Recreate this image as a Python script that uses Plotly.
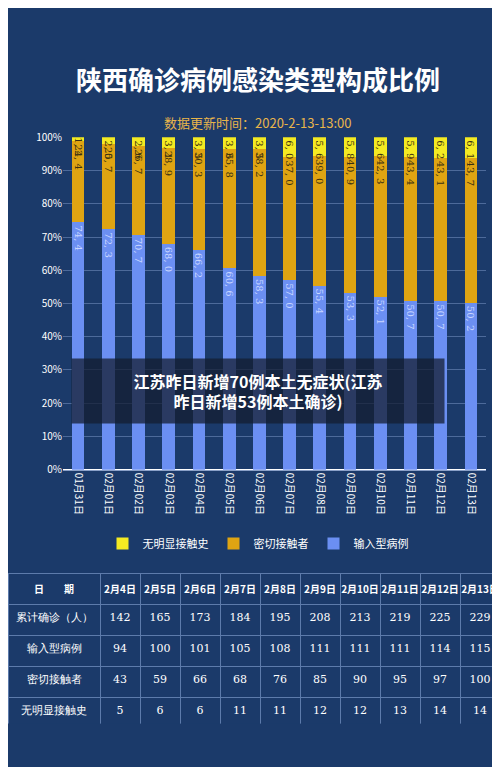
import plotly.graph_objects as go

dates = ["01月31日", "02月01日", "02月02日", "02月03日", "02月04日", "02月05日", "02月06日",
         "02月07日", "02月08日", "02月09日", "02月10日", "02月11日", "02月12日", "02月13日"]
imported_pct = [74.4, 72.3, 70.7, 68.0, 66.2, 60.6, 58.3, 57.0, 55.4, 53.3, 52.1, 50.7, 50.7, 50.2]
contact_pct = [24.4, 25.7, 26.7, 28.9, 30.3, 35.8, 38.2, 37.0, 39.0, 40.9, 42.3, 43.4, 43.1, 43.7]
unknown_pct = [1.2, 2.0, 2.6, 3.1, 3.5, 3.6, 3.5, 6.0, 5.6, 5.8, 5.6, 5.9, 6.2, 6.1]

table_dates = ["2月4日", "2月5日", "2月6日", "2月7日", "2月8日", "2月9日", "2月10日", "2月11日", "2月12日", "2月13日"]
row_names = ["累计确诊（人）", "输入型病例", "密切接触者", "无明显接触史"]
total_cases = [142, 165, 173, 184, 195, 208, 213, 219, 225, 229]
imported_cases = [94, 100, 101, 105, 108, 111, 111, 111, 114, 115]
contact_cases = [43, 59, 66, 68, 76, 85, 90, 95, 97, 100]
unknown_cases = [5, 6, 6, 11, 11, 12, 12, 13, 14, 14]

BG = "#1b3a6a"
fig = go.Figure()

for name, vals, color, tcolor in [
    ("输入型病例", imported_pct, "#6b8ff2", "#c9d6ff"),
    ("密切接触者", contact_pct, "#dfa412", "#3a3010"),
    ("无明显接触史", unknown_pct, "#f4ea22", "#3a3010"),
]:
    fig.add_trace(go.Bar(
        x=dates, y=vals, name=name, marker_color=color, marker_line_width=0,
        text=[f"{v:.1f}".replace(".", ", ") for v in vals],
        textposition="inside", insidetextanchor="end", textangle=90,
        constraintext="none",
        textfont=dict(color=tcolor, size=10, family="DejaVu Serif"),
        width=0.42,
    ))

# table columns, one list per column
columns = [row_names] + [[a, b, c, d] for a, b, c, d in
                         zip(total_cases, imported_cases, contact_cases, unknown_cases)]

cell_font = dict(color="white", size=10, family="Noto Sans CJK SC")
fig.add_trace(go.Table(
    domain=dict(x=[0.0, 0.985], y=[0.06, 0.26]),
    columnwidth=[92] + [40] * 10,
    header=dict(values=["<b>日　　期</b>"] + [f"<b>{d}</b>" for d in table_dates], fill_color=BG,
                line_color="#5d7bab", font=cell_font, height=31, align="center"),
    cells=dict(values=columns, fill_color=BG, line_color="#5d7bab",
               font=dict(color="white", size=11, family="DejaVu Serif"), height=31, align="center"),
))

fig.update_layout(
    width=500, height=767, barmode="stack",
    paper_bgcolor=BG, plot_bgcolor=BG,
    margin=dict(l=0, r=0, t=0, b=0),
    font=dict(family="Noto Sans CJK SC", color="white"),
    xaxis=dict(domain=[0.11, 0.956], tickangle=90, tickfont=dict(size=10, color="white"),
               showgrid=False, linecolor="#8aa0c8"),
    yaxis=dict(domain=[0.398, 0.84], range=[0, 100], dtick=10, ticksuffix="%",
               tickfont=dict(size=10, color="white"), gridcolor="#4d6a9a"),
    legend=dict(orientation="h", x=0.5, xanchor="center", y=0.3, yanchor="middle",
                traceorder="reversed", font=dict(size=11, color="white"), bgcolor="rgba(0,0,0,0)"),
    showlegend=True,
)

fig.add_annotation(text="<b>陕西确诊病例感染类型构成比例</b>", x=0.5, y=0.945, xref="paper", yref="paper",
                   showarrow=False, font=dict(size=26, color="white"))
fig.add_annotation(text="数据更新时间：2020-2-13-13:00", x=0.5, y=0.875, xref="paper", yref="paper",
                   showarrow=False, font=dict(size=13, color="#e9b54a"))
fig.add_annotation(text="<b>江苏昨日新增70例本土无症状(江苏<br>昨日新增53例本土确诊)</b>",
                   x=0.5, y=0.503, xref="paper", yref="paper", showarrow=False,
                   font=dict(size=16, color="white"), bgcolor="rgba(20,30,50,0.75)",
                   width=370, height=62)

fig.write_html("out.html")
